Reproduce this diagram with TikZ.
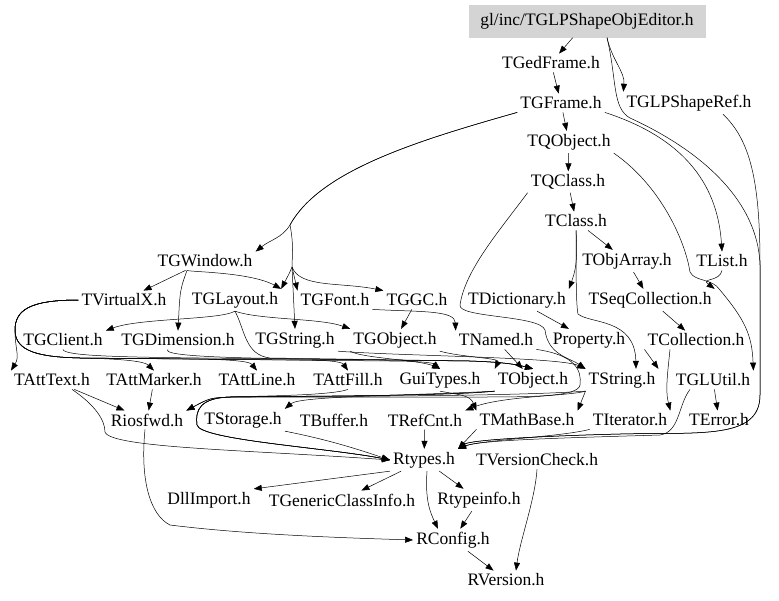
\documentclass[tikz,border=0pt]{standalone}
\usepackage{fontspec}
\setmainfont{Liberation Serif}
\usetikzlibrary{arrows.meta}
\tikzset{
  hdr/.style={inner sep=3pt, font=\fontsize{17.5}{20}\selectfont},
  dep/.style={draw, line width=0.5pt, -{Triangle[length=8pt,width=6pt]}}
}
\begin{document}
\begin{tikzpicture}[x=1pt,y=-1pt]
\useasboundingbox (0,0) rectangle (779,600);
% headers, row by row
\node[hdr, fill=black!17, minimum width=237pt, minimum height=33pt] (editor) at (587,21) {gl/inc/TGLPShapeObjEditor.h};
\node[hdr] (gedframe) at (551,63) {TGedFrame.h};
\node[hdr] (gframe) at (561,103) {TGFrame.h};
\node[hdr] (shaperef) at (689,103) {TGLPShapeRef.h};
\node[hdr] (qobject) at (569,142) {TQObject.h};
\node[hdr] (qclass) at (568,182) {TQClass.h};
\node[hdr] (tclass) at (576,221) {TClass.h};
\node[hdr] (gwindow) at (205,261) {TGWindow.h};
\node[hdr] (objarray) at (627,261) {TObjArray.h};
\node[hdr] (tlist) at (722,261) {TList.h};
\node[hdr] (virtualx) at (124,300) {TVirtualX.h};
\node[hdr] (glayout) at (235,300) {TGLayout.h};
\node[hdr] (gfont) at (335,300) {TGFont.h};
\node[hdr] (ggc) at (417,300) {TGGC.h};
\node[hdr] (dictionary) at (517,300) {TDictionary.h};
\node[hdr] (seqcoll) at (650,300) {TSeqCollection.h};
\node[hdr] (gclient) at (63,340) {TGClient.h};
\node[hdr] (gdimension) at (178,340) {TGDimension.h};
\node[hdr] (gstring) at (295,340) {TGString.h};
\node[hdr] (gobject) at (395,340) {TGObject.h};
\node[hdr] (named) at (496,340) {TNamed.h};
\node[hdr] (property) at (589,340) {Property.h};
\node[hdr] (collection) at (696,340) {TCollection.h};
\node[hdr] (atttext) at (52,380) {TAttText.h};
\node[hdr] (attmarker) at (154,380) {TAttMarker.h};
\node[hdr] (attline) at (257,380) {TAttLine.h};
\node[hdr] (attfill) at (348,380) {TAttFill.h};
\node[hdr] (guitypes) at (440,380) {GuiTypes.h};
\node[hdr] (tobject) at (533,380) {TObject.h};
\node[hdr] (tstring) at (622,380) {TString.h};
\node[hdr] (glutil) at (713,380) {TGLUtil.h};
\node[hdr] (riosfwd) at (147,420) {Riosfwd.h};
\node[hdr] (storage) at (243,420) {TStorage.h};
\node[hdr] (buffer) at (334,420) {TBuffer.h};
\node[hdr] (refcnt) at (425,420) {TRefCnt.h};
\node[hdr] (mathbase) at (527,420) {TMathBase.h};
\node[hdr] (iterator) at (630,420) {TIterator.h};
\node[hdr] (error) at (719,420) {TError.h};
\node[hdr] (rtypes) at (424,460) {Rtypes.h};
\node[hdr] (versioncheck) at (537,460) {TVersionCheck.h};
\node[hdr] (dllimport) at (209,500) {DllImport.h};
\node[hdr] (genericci) at (342,500) {TGenericClassInfo.h};
\node[hdr] (rtypeinfo) at (479,500) {Rtypeinfo.h};
\node[hdr] (rconfig) at (453,540) {RConfig.h};
\node[hdr] (rversion) at (506,580) {RVersion.h};
\coordinate (fork) at (292,267);

% top of the graph
\draw[dep] (editor) -- (gedframe);
\draw[dep] ([xshift=20pt]editor.south) .. controls (612,60) and (625,72) .. (shaperef.north west);
\draw[dep] ([xshift=20pt]editor.south) .. controls (617,80) and (612,108) .. (630,118) .. controls (700,150) and (758,200) .. (760,265) -- (760,395) .. controls (760,440) and (700,432) .. (620,434) .. controls (540,436) and (470,440) .. (rtypes.north east);
\draw[dep] ([xshift=34pt]shaperef.south) .. controls (750,140) and (760,180) .. (760,265) -- (760,395) .. controls (760,440) and (700,432) .. (620,434) .. controls (540,436) and (470,440) .. (rtypes.north east);
\draw[dep] (gedframe) -- (gframe);
\draw[dep] (gframe) -- (qobject);
\draw[dep] (gframe.south west) .. controls (420,140) and (320,170) .. (290,225) .. controls (282,238) and (270,240) .. (gwindow.north east);
\draw[dep] (gframe.south west) .. controls (420,140) and (320,170) .. (290,225) .. controls (294,245) and (292,258) .. (fork) .. controls (290,272) .. (glayout.north east);
\draw[dep] (fork) .. controls (295,280) .. (gfont.north west);
\draw[dep] (fork) .. controls (300,288) and (340,282) .. (ggc.north west);
\draw[dep] (fork) -- (gstring.north);
\draw[dep] (gframe.south east) .. controls (690,140) and (718,190) .. (tlist.north);
\draw[dep] (qobject) -- (qclass);
\draw[dep] (qobject.south east) .. controls (660,185) and (685,240) .. (690,272) .. controls (695,282) and (712,278) .. (720,290) .. controls (745,320) and (752,335) .. (glutil.north east);
\draw[dep] (qclass) -- (tclass);
\draw[dep] (qclass.south west) .. controls (500,230) and (465,270) .. (460,305) .. controls (458,318) and (540,315) .. (545,330) .. controls (548,355) and (570,358) .. (tstring.north west);
\draw[dep] (tclass) -- (objarray);
\draw[dep] (tclass.south) .. controls (578,262) and (575,272) .. (dictionary.north east);
\draw[dep] (tclass.south) .. controls (576,270) and (576,305) .. (578,314) .. controls (590,324) and (635,318) .. ([xshift=14pt]tstring.north);
\draw[dep] (objarray) -- (seqcoll);
\draw[dep] (tlist.south) .. controls (720,282) and (700,278) .. (seqcoll.north east);
\draw[dep] (seqcoll) -- (collection);
\draw[dep] (dictionary) -- (property);
\draw[dep] (gfont.south east) .. controls (420,312) and (455,310) .. (named.north west);

% gui part
\draw[dep] (gwindow) -- (virtualx);
\draw[dep] ([xshift=-18pt]gwindow.south) .. controls (180,290) .. (gdimension.north);
\draw[dep] ([xshift=-18pt]gwindow.south) .. controls (190,272) and (250,272) .. (glayout.north east);
\draw[dep] (glayout.south) .. controls (220,320) and (140,318) .. (gclient.north east);
\draw[dep] (glayout.south) .. controls (260,320) and (320,318) .. (gobject.north west);
\draw[dep] (ggc) -- (gobject);
\draw[dep] (virtualx.west) .. controls (30,300) and (15,310) .. (15,330) .. controls (15,350) and (20,356) .. (atttext.north west);
\draw[dep] (virtualx.west) .. controls (30,300) and (15,310) .. (15,330) .. controls (15,352) and (40,357) .. (80,358) .. controls (130,359) and (145,362) .. (attmarker.north);
\draw[dep] (virtualx.west) .. controls (30,300) and (15,310) .. (15,330) .. controls (15,352) and (40,357) .. (80,358) -- (200,359) .. controls (240,360) and (250,362) .. (attline.north);
\draw[dep] (virtualx.west) .. controls (30,300) and (15,310) .. (15,330) .. controls (15,352) and (40,357) .. (80,358) -- (300,360) .. controls (330,360) and (342,362) .. (attfill.north);
\draw[dep] (virtualx.west) .. controls (30,300) and (15,310) .. (15,330) .. controls (15,352) and (40,357) .. (80,358) -- (390,361) .. controls (420,361) and (433,363) .. (guitypes.north);
\draw[dep] (gclient.south) .. controls (64,356) and (120,357) .. (200,358) -- (470,361) .. controls (500,362) and (515,364) .. (tobject.north);
\draw[dep] ([xshift=-10pt]gdimension.south) .. controls (160,357) and (250,358) .. (300,359) -- (470,361) .. controls (500,362) and (515,364) .. (tobject.north);
\draw[dep] (glayout.south) .. controls (245,330) and (245,355) .. (270,358) -- (470,361) .. controls (500,362) and (515,364) .. (tobject.north);
\draw[dep] (gobject.south west) .. controls (360,358) and (420,360) .. (guitypes.north);
\draw[dep] (gobject.south east) .. controls (460,357) and (500,358) .. (tobject.north west);
\draw[dep] (gstring.south east) .. controls (400,356) and (560,357) .. (tstring.north west);
\draw[dep] (named) -- (tobject);
\draw[dep] (collection.south west) -- (tstring.north east);
\draw[dep] ([xshift=-26pt]collection.south) .. controls (668,370) and (665,390) .. (iterator.north east);

% lower part
\draw[dep] (atttext) -- (riosfwd);
\draw[dep] (attmarker) -- (riosfwd);
\draw[dep] ([xshift=20pt]atttext.south) .. controls (95,405) and (105,420) .. (105,432) .. controls (110,448) and (250,450) .. (rtypes.west);
\draw[dep] (named.south east) .. controls (575,355) and (582,370) .. (580,385) .. controls (578,396) and (540,397) .. (480,397) -- (230,397) .. controls (210,398) .. (riosfwd.north east);
\draw[dep] (tobject.south west) .. controls (450,396) and (300,396) .. (230,397) .. controls (210,398) .. (riosfwd.north east);
\draw[dep] (tstring.south west) .. controls (500,397) and (300,396) .. (230,397) .. controls (200,398) and (195,410) .. (197,425) .. controls (200,440) and (330,448) .. (rtypes.west);
\draw[dep] (tobject.south west) .. controls (450,396) and (300,396) .. (230,397) .. controls (200,398) and (195,410) .. (197,425) .. controls (200,440) and (330,448) .. (rtypes.west);
\draw[dep] (attfill.south) .. controls (330,396) and (250,396) .. (230,397) .. controls (200,398) and (195,410) .. (197,425) .. controls (200,440) and (330,448) .. (rtypes.west);
\draw[dep] (tobject.south west) .. controls (400,396) and (300,396) .. (storage.north east);
\draw[dep] (tstring.south west) .. controls (570,396) and (500,396) .. (refcnt.north east);
\draw[dep] (tstring.south west) -- (mathbase.north east);
\draw[dep] (guitypes.south) .. controls (460,395) and (470,395) .. (mathbase.north west);
\draw[dep] (storage.south east) .. controls (330,440) and (360,450) .. (rtypes.west);
\draw[dep] (refcnt) -- (rtypes);
\draw[dep] (mathbase.south west) -- (rtypes.north east);
\draw[dep] (iterator.south west) .. controls (560,437) and (480,440) .. (rtypes.north east);
\draw[dep] ([xshift=-23pt]glutil.south) .. controls (678,405) and (680,432) .. (660,435) .. controls (560,438) and (480,440) .. (rtypes.north east);
\draw[dep] (glutil) -- (error);
\draw[dep] (rtypes.south west) -- (dllimport.north east);
\draw[dep] (rtypes) -- (genericci);
\draw[dep] (rtypes) -- (rtypeinfo);
\draw[dep] ([xshift=3pt]rtypes.south) .. controls (425,500) and (430,512) .. ([xshift=-15pt]rconfig.north);
\draw[dep] (rtypeinfo) -- (rconfig);
\draw[dep] ([xshift=-2pt]riosfwd.south) .. controls (140,480) and (150,515) .. (170,525) .. controls (250,535) and (350,538) .. (rconfig.west);
\draw[dep] (rconfig) -- (rversion);
\draw[dep] (versioncheck.south) .. controls (535,500) and (520,540) .. ([xshift=10pt]rversion.north);
\end{tikzpicture}
\end{document}
